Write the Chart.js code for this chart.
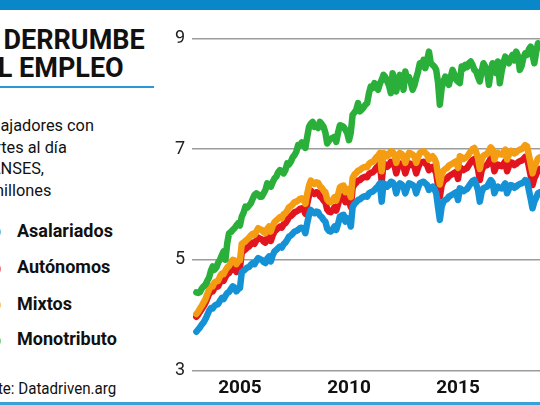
<!DOCTYPE html>
<html>
<head>
<meta charset="utf-8">
<script src="https://cdn.jsdelivr.net/npm/chart.js@4.4.1/dist/chart.umd.min.js"></script>
<style>
  html, body { margin: 0; padding: 0; background: #fff; }
  #page { position: relative; width: 540px; height: 405px; overflow: hidden; background: #fff;
          font-family: Roboto, "Noto Sans", sans-serif; color: #111; }
  .band { position: absolute; left: 0; top: 0; width: 540px; height: 10px; background: #0a87c9; }
  .rule { position: absolute; left: 0; top: 86px; width: 154px; height: 2px; background: #2b97d4; }
  .bottom { position: absolute; left: 0; top: 402px; width: 540px; height: 3px; background: #3aa0d8; }
  .title { position: absolute; font-size: 27px; font-weight: 700; line-height: 28px; white-space: nowrap; }
  .sub { position: absolute; left: -32px; top: 115px; font-size: 17px; line-height: 21.5px;
         white-space: nowrap; transform: scaleX(0.96); transform-origin: left top; }
  .leg { position: absolute; left: 17px; font-size: 18px; font-weight: 700; line-height: 20px; white-space: nowrap; }
  .dot { position: absolute; left: -11px; width: 12px; height: 12px; border-radius: 6px; opacity: 0.6; }
  .src { position: absolute; left: -35px; top: 379px; font-size: 16px; line-height: 20px; white-space: nowrap;
         transform: scaleX(0.945); transform-origin: left top; }
  #chartBox { position: absolute; left: 150px; top: 0; width: 390px; height: 405px; }
</style>
</head>
<body>
<div id="page">
  <div class="band"></div>
  <div class="title" style="left:-33px; top:26px;">EL DERRUMBE</div>
  <div class="title" style="left:-35px; top:54px;">DEL EMPLEO</div>
  <div class="rule"></div>
  <div class="sub">Trabajadores con<br>aportes al día<br>de ANSES,<br>en millones</div>

  <div class="dot" style="top:226px; background:#1592d5;"></div>
  <div class="leg" style="top:221px;">Asalariados</div>
  <div class="dot" style="top:263px; background:#e2141f;"></div>
  <div class="leg" style="top:257px;">Autónomos</div>
  <div class="dot" style="top:299px; background:#f49c12;"></div>
  <div class="leg" style="top:294px;">Mixtos</div>
  <div class="dot" style="top:335px; background:#2aaf3a;"></div>
  <div class="leg" style="top:329px;">Monotributo</div>

  <div class="src">Fuente: Datadriven.arg</div>
  <div class="bottom"></div>

  <div id="chartBox"><canvas id="chart" width="390" height="405"></canvas></div>
</div>

<script>
// monthly series, first value = January 2003
const startYear = 2003;
const xTickYears = [2005, 2010, 2015];
const yTicks = [3, 5, 7, 9];

// Asalariados, millions
const asalariados = [
  3.70, 3.74, 3.78, 3.83, 3.87, 3.93, 4.00, 4.08, 4.13, 4.12, 4.17, 4.19,
  4.20, 4.26, 4.31, 4.29, 4.35, 4.40, 4.42, 4.47, 4.52, 4.50, 4.43, 4.47,
  4.49, 4.78, 4.80, 4.83, 4.86, 4.87, 4.91, 4.94, 4.92, 4.98, 5.03, 5.01,
  5.00, 4.96, 4.94, 5.02, 5.06, 4.97, 5.08, 5.15, 5.18, 5.21, 5.24, 5.22,
  5.28, 5.31, 5.36, 5.42, 5.44, 5.47, 5.51, 5.52, 5.54, 5.57, 5.58, 5.56,
  5.48, 5.66, 5.81, 5.90, 5.86, 5.84, 5.87, 5.86, 5.80, 5.77, 5.72, 5.69,
  5.56, 5.52, 5.51, 5.55, 5.60, 5.54, 5.65, 5.78, 5.80, 5.81, 5.69, 5.75,
  5.72, 5.60, 5.95, 6.01, 6.04, 6.08, 6.09, 6.12, 6.14, 6.15, 6.14, 6.20,
  6.22, 6.23, 6.26, 6.30, 6.33, 6.38, 6.05, 6.38, 6.36, 6.32, 6.35, 6.41,
  6.40, 6.35, 6.20, 6.32, 6.38, 6.36, 6.32, 6.20, 6.30, 6.38, 6.37, 6.35,
  6.32, 6.20, 6.30, 6.38, 6.40, 6.41, 6.38, 6.35, 6.26, 6.30, 6.32, 6.28,
  6.20, 5.95, 5.72, 5.96, 6.05, 6.08, 6.10, 6.14, 6.16, 6.18, 6.20, 6.22,
  6.08, 6.29, 6.27, 6.24, 6.26, 6.28, 6.33, 6.38, 6.42, 6.44, 6.36, 6.26,
  6.05, 6.22, 6.29, 6.31, 6.32, 6.38, 6.44, 6.40, 6.20, 6.28, 6.32, 6.30,
  6.29, 6.33, 6.38, 6.20, 6.28, 6.35, 6.34, 6.30, 6.32, 6.35, 6.37, 6.38,
  6.40, 6.44, 6.42, 6.26, 6.10, 5.93, 6.05, 6.12, 6.20, 6.22
];

// Autónomos, added on top of asalariados
const autonomos = [
  0.27, 0.27, 0.28, 0.28, 0.29, 0.29, 0.30, 0.30, 0.31, 0.31, 0.32, 0.32,
  0.32, 0.33, 0.33, 0.33, 0.34, 0.34, 0.34, 0.35, 0.35, 0.35, 0.35, 0.36,
  0.36, 0.36, 0.36, 0.36, 0.36, 0.37, 0.37, 0.37, 0.37, 0.37, 0.37, 0.37,
  0.37, 0.37, 0.37, 0.37, 0.37, 0.37, 0.36, 0.36, 0.36, 0.36, 0.36, 0.36,
  0.36, 0.35, 0.35, 0.35, 0.35, 0.35, 0.35, 0.35, 0.35, 0.35, 0.35, 0.35,
  0.35, 0.35, 0.35, 0.35, 0.35, 0.35, 0.35, 0.35, 0.35, 0.35, 0.35, 0.35,
  0.35, 0.35, 0.35, 0.35, 0.35, 0.35, 0.35, 0.35, 0.35, 0.35, 0.35, 0.35,
  0.35, 0.35, 0.35, 0.35, 0.35, 0.35, 0.35, 0.35, 0.35, 0.35, 0.35, 0.35,
  0.35, 0.35, 0.35, 0.36, 0.36, 0.36, 0.36, 0.36, 0.36, 0.36, 0.36, 0.36,
  0.36, 0.36, 0.36, 0.36, 0.36, 0.36, 0.36, 0.36, 0.36, 0.36, 0.36, 0.36,
  0.36, 0.36, 0.36, 0.36, 0.36, 0.36, 0.36, 0.36, 0.36, 0.36, 0.36, 0.36,
  0.36, 0.38, 0.42, 0.38, 0.37, 0.37, 0.37, 0.37, 0.37, 0.37, 0.37, 0.37,
  0.38, 0.38, 0.38, 0.38, 0.38, 0.38, 0.38, 0.38, 0.38, 0.38, 0.38, 0.38,
  0.39, 0.39, 0.39, 0.39, 0.39, 0.39, 0.39, 0.39, 0.40, 0.40, 0.40, 0.40,
  0.40, 0.40, 0.40, 0.40, 0.41, 0.41, 0.41, 0.41, 0.41, 0.41, 0.41, 0.41,
  0.42, 0.42, 0.42, 0.42, 0.42, 0.42, 0.42, 0.42, 0.42, 0.42
];

// Mixtos, added on top of autónomos
const mixtos = [
  0.05, 0.05, 0.06, 0.06, 0.07, 0.07, 0.08, 0.08, 0.09, 0.09, 0.10, 0.10,
  0.10, 0.11, 0.11, 0.12, 0.12, 0.12, 0.13, 0.13, 0.13, 0.14, 0.14, 0.14,
  0.14, 0.15, 0.15, 0.15, 0.15, 0.16, 0.16, 0.16, 0.16, 0.16, 0.17, 0.17,
  0.17, 0.17, 0.17, 0.17, 0.17, 0.17, 0.17, 0.17, 0.17, 0.17, 0.17, 0.17,
  0.18, 0.18, 0.18, 0.18, 0.18, 0.18, 0.18, 0.18, 0.18, 0.18, 0.18, 0.18,
  0.18, 0.18, 0.18, 0.18, 0.18, 0.18, 0.18, 0.18, 0.18, 0.18, 0.18, 0.18,
  0.18, 0.18, 0.18, 0.18, 0.18, 0.18, 0.18, 0.18, 0.18, 0.18, 0.18, 0.18,
  0.18, 0.18, 0.18, 0.18, 0.18, 0.18, 0.18, 0.18, 0.18, 0.18, 0.18, 0.18,
  0.19, 0.19, 0.19, 0.19, 0.19, 0.19, 0.19, 0.19, 0.19, 0.19, 0.19, 0.19,
  0.19, 0.19, 0.19, 0.19, 0.19, 0.19, 0.19, 0.19, 0.19, 0.19, 0.19, 0.19,
  0.19, 0.19, 0.19, 0.19, 0.19, 0.19, 0.19, 0.19, 0.19, 0.19, 0.19, 0.19,
  0.19, 0.20, 0.22, 0.20, 0.19, 0.19, 0.19, 0.19, 0.19, 0.19, 0.19, 0.19,
  0.20, 0.20, 0.20, 0.20, 0.20, 0.20, 0.20, 0.20, 0.20, 0.20, 0.20, 0.20,
  0.20, 0.20, 0.20, 0.20, 0.20, 0.20, 0.20, 0.20, 0.21, 0.21, 0.21, 0.21,
  0.21, 0.21, 0.21, 0.21, 0.21, 0.21, 0.21, 0.21, 0.21, 0.21, 0.21, 0.21,
  0.21, 0.21, 0.21, 0.21, 0.21, 0.21, 0.21, 0.21, 0.21, 0.21
];

// top line: all workers including monotributo, millions
const totalMonotributo = [
  4.41, 4.40, 4.42, 4.48, 4.52, 4.55, 4.62, 4.68, 4.80, 4.88, 4.82, 4.86,
  4.95, 5.00, 5.08, 5.15, 5.00, 5.30, 5.48, 5.50, 5.54, 5.57, 5.62, 5.66,
  5.62, 5.78, 5.85, 5.96, 5.94, 5.98, 6.02, 6.10, 6.17, 6.20, 6.18, 6.14,
  6.14, 6.20, 6.26, 6.38, 6.36, 6.32, 6.40, 6.47, 6.50, 6.58, 6.62, 6.60,
  6.56, 6.62, 6.74, 6.72, 6.77, 6.85, 6.89, 6.95, 7.07, 7.06, 7.12, 7.10,
  7.02, 7.22, 7.40, 7.46, 7.49, 7.40, 7.42, 7.38, 7.49, 7.45, 7.40, 7.30,
  7.10, 7.15, 7.19, 7.20, 7.22, 7.13, 7.30, 7.43, 7.42, 7.40, 7.35, 7.29,
  7.16, 7.30, 7.62, 7.66, 7.71, 7.83, 7.68, 7.71, 7.75, 7.80, 7.83, 8.01,
  8.13, 8.10, 8.19, 8.12, 8.07, 8.18, 8.25, 8.34, 8.30, 8.22, 8.15, 8.01,
  8.37, 8.25, 8.04, 8.20, 8.34, 8.30, 8.07, 8.40, 8.25, 8.30, 8.20, 8.07,
  8.15, 8.28, 8.40, 8.55, 8.50, 8.61, 8.46, 8.60, 8.76, 8.55, 8.52, 8.49,
  8.43, 8.20, 7.80, 8.10, 8.22, 8.31, 8.25, 8.16, 8.30, 8.43, 8.35, 8.25,
  8.22, 8.19, 8.49, 8.45, 8.52, 8.48, 8.55, 8.58, 8.52, 8.43, 8.40, 8.30,
  8.22, 8.40, 8.55, 8.49, 8.40, 8.16, 8.40, 8.55, 8.45, 8.37, 8.58, 8.19,
  8.40, 8.55, 8.67, 8.60, 8.55, 8.64, 8.70, 8.60, 8.76, 8.68, 8.43, 8.50,
  8.65, 8.73, 8.70, 8.80, 8.85, 8.70, 8.55, 8.75, 8.91, 8.88
];

const autonomosLine = asalariados.map((v, i) => v + autonomos[i]);
const mixtosLine = autonomosLine.map((v, i) => v + mixtos[i]);

function toPoints(values) {
  return values.map((v, i) => ({ x: startYear + i / 12, y: v }));
}

function lineSet(label, values, color, order) {
  return {
    label: label,
    data: toPoints(values),
    borderColor: color,
    backgroundColor: color,
    borderWidth: 6.5,
    pointRadius: 0,
    tension: 0,
    borderJoinStyle: 'round',
    borderCapStyle: 'round',
    fill: false,
    order: order
  };
}

Chart.defaults.font.family = 'Roboto, "Noto Sans", sans-serif';

new Chart(document.getElementById('chart').getContext('2d'), {
  type: 'line',
  data: {
    datasets: [
      lineSet('Asalariados', asalariados, '#1592d5', 2),
      lineSet('Autónomos', autonomosLine, '#e2141f', 3),
      lineSet('Mixtos', mixtosLine, '#f49c12', 1),
      lineSet('Monotributo', totalMonotributo, '#2aaf3a', 0)
    ]
  },
  options: {
    responsive: false,
    animation: false,
    devicePixelRatio: 1,
    layout: { padding: { top: 38.3, right: 0, bottom: 0, left: 0 } },
    plugins: { legend: { display: false }, tooltip: { enabled: false } },
    scales: {
      x: {
        type: 'linear',
        min: 2002.8,
        max: 2018.76,
        afterBuildTicks: s => { s.ticks = xTickYears.map(v => ({ value: v })); },
        afterFit: s => { s.height = 34.5; },
        grid: { display: false, drawTicks: false },
        border: { display: false },
        ticks: {
          padding: 6,
          color: '#111',
          font: { size: 19, weight: 'bold' },
          callback: v => String(v)
        }
      },
      y: {
        min: 3,
        max: 9,
        afterBuildTicks: s => { s.ticks = yTicks.map(v => ({ value: v })); },
        afterFit: s => { s.width = 42; },
        grid: { color: '#9c9c9c', lineWidth: 1.5, drawTicks: false },
        border: { display: false },
        ticks: { padding: 7, color: '#222', font: { size: 18 } }
      }
    }
  }
});
</script>
</body>
</html>
